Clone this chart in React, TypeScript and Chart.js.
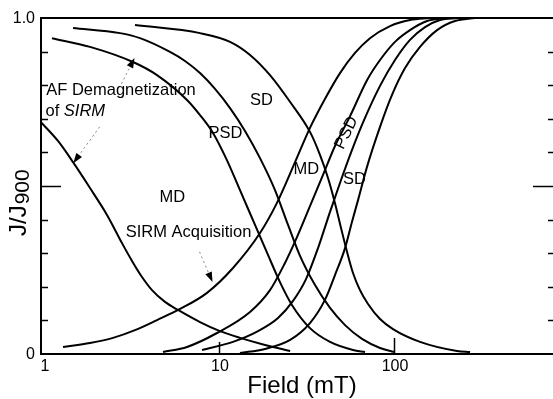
import React, { useEffect, useRef } from 'react';
import { Chart, registerables } from 'chart.js';

Chart.register(...registerables);

// Field axis bounds (mT, log scale) and remanence axis bounds
const X_MIN = 0.9613;
const X_MAX = 810;
const Y_MIN = 0;
const Y_MAX = 1;

// AF demagnetization of SIRM
const mdDemagField = [0.961, 1.202, 1.465, 1.832, 2.291, 2.791, 3.184, 3.631, 4.141, 4.913, 5.832, 7.788, 10.13, 13.18, 18.32, 25.5];
const mdDemagJ = [0.69, 0.634, 0.571, 0.494, 0.414, 0.33, 0.277, 0.229, 0.19, 0.155, 0.131, 0.095, 0.068, 0.048, 0.027, 0.009];

const fineDemagField = [1.111, 1.832, 3.226, 4.423, 6.565, 7.788, 9.24, 10.96, 13.18, 16.06, 19.05, 22.3, 26.1, 33.1, 43.09, 58.3, 68.29];
const fineDemagJ = [0.94, 0.914, 0.869, 0.83, 0.756, 0.711, 0.658, 0.583, 0.488, 0.384, 0.295, 0.214, 0.146, 0.077, 0.036, 0.012, 0.006];

const psdDemagField = [1.465, 2.718, 3.537, 5.248, 6.393, 7.788, 9.49, 11.56, 14.08, 17.15, 20.89, 24.8, 29.03, 35.37, 43.09, 52.5, 65.64, 83.2, 100];
const psdDemagJ = [0.97, 0.955, 0.94, 0.899, 0.872, 0.836, 0.789, 0.732, 0.664, 0.583, 0.488, 0.384, 0.292, 0.205, 0.137, 0.086, 0.045, 0.018, 0.006];

const sdDemagField = [3.311, 7.788, 11.56, 15.04, 19.56, 25.5, 33.1, 37.8, 41.96, 46.0, 49.8, 53.9, 58.3, 63.9, 71.03, 83.2, 98.7, 140.8, 229, 272];
const sdDemagJ = [0.979, 0.955, 0.929, 0.89, 0.83, 0.75, 0.661, 0.592, 0.524, 0.449, 0.375, 0.304, 0.241, 0.19, 0.149, 0.104, 0.074, 0.036, 0.009, 0.006];

// SIRM acquisition
const mdAcqField = [1.284, 1.832, 2.48, 3.311, 4.423, 5.987, 8.54, 12.02, 17.15, 21.4, 27.2, 33.1, 40.3, 49.14, 59.86, 72.9, 94.9, 123.4, 160.6];
const mdAcqJ = [0.021, 0.033, 0.048, 0.071, 0.101, 0.134, 0.182, 0.256, 0.36, 0.449, 0.571, 0.673, 0.759, 0.836, 0.896, 0.94, 0.976, 0.994, 1.0];

const mixAcqField = [4.786, 6.565, 9.74, 15.04, 19.56, 23.51, 27.9, 33.1, 39.3, 46.0, 56.1, 70.1, 83.2, 101.3, 123.4, 154.5, 195.6];
const mixAcqJ = [0.006, 0.021, 0.0625, 0.125, 0.19, 0.265, 0.348, 0.44, 0.533, 0.619, 0.708, 0.815, 0.875, 0.929, 0.964, 0.991, 1.0];

const psdAcqField = [8.0, 12.02, 16.71, 21.74, 26.48, 31.42, 36.79, 43.09, 49.8, 57.5, 67.39, 83.2, 101.3, 123.4, 150.4, 183.2, 232.1];
const psdAcqJ = [0.012, 0.036, 0.068, 0.107, 0.158, 0.223, 0.315, 0.423, 0.518, 0.607, 0.696, 0.798, 0.875, 0.935, 0.973, 0.994, 1.0];

const sdAcqField = [13.18, 18.32, 25.5, 33.1, 40.3, 46.0, 52.5, 57.5, 62.3, 70.1, 83.2, 97.4, 115.6, 140.8, 176.2, 223.2, 290.3];
const sdAcqJ = [0.003, 0.015, 0.042, 0.092, 0.161, 0.235, 0.315, 0.393, 0.458, 0.557, 0.676, 0.771, 0.851, 0.914, 0.964, 0.991, 1.0];

// Tick marks and labels
const yTickValues = [0.1, 0.2, 0.3, 0.4, 0.5, 0.6, 0.7, 0.8, 0.9];
const yTickLabels = [
  { value: 0, text: '0' },
  { value: 1, text: '1.0' },
];
const xTickValues = [10, 100];
const xTickLabels = [
  { value: 1, text: '1' },
  { value: 10, text: '10' },
  { value: 100, text: '100' },
];

const FONT = '"Liberation Sans", Arial, Helvetica, sans-serif';

const toPoints = (xs: number[], ys: number[]) => xs.map((x, i) => ({ x, y: ys[i] }));

const curve = (label: string, xs: number[], ys: number[]) => ({
  label,
  data: toPoints(xs, ys),
  borderColor: '#000',
  borderWidth: 2,
  pointRadius: 0,
  fill: false,
  cubicInterpolationMode: 'monotone' as const,
});

type Pt = { x: number; y: number };

function arrow(ctx: CanvasRenderingContext2D, from: Pt, tip: Pt) {
  const ang = Math.atan2(tip.y - from.y, tip.x - from.x);
  const headLen = 10;
  const baseX = tip.x - Math.cos(ang) * headLen;
  const baseY = tip.y - Math.sin(ang) * headLen;
  ctx.save();
  ctx.strokeStyle = '#888';
  ctx.lineWidth = 1;
  ctx.setLineDash([2, 3]);
  ctx.beginPath();
  ctx.moveTo(from.x, from.y);
  ctx.lineTo(baseX, baseY);
  ctx.stroke();
  ctx.setLineDash([]);
  ctx.fillStyle = '#000';
  ctx.beginPath();
  ctx.moveTo(tip.x, tip.y);
  ctx.lineTo(baseX + Math.sin(ang) * 3.5, baseY - Math.cos(ang) * 3.5);
  ctx.lineTo(baseX - Math.sin(ang) * 3.5, baseY + Math.cos(ang) * 3.5);
  ctx.closePath();
  ctx.fill();
  ctx.restore();
}

const framePlugin = {
  id: 'frameAndNotes',
  afterDatasetsDraw(chart: any) {
    const { ctx, chartArea: a, scales } = chart;
    const xs = scales.x;
    const ys = scales.y;
    const px = (v: number) => xs.getPixelForValue(v);
    const py = (v: number) => ys.getPixelForValue(v);
    const at = (x: number, y: number) => ({ x: px(x), y: py(y) });

    ctx.save();
    // frame: top, left, bottom
    ctx.strokeStyle = '#000';
    ctx.lineWidth = 2;
    ctx.beginPath();
    ctx.moveTo(a.right + 2, a.top);
    ctx.lineTo(a.left, a.top);
    ctx.lineTo(a.left, a.bottom);
    ctx.lineTo(a.right + 2, a.bottom);
    ctx.stroke();

    // inward y ticks on both sides
    ctx.lineWidth = 1.5;
    ctx.beginPath();
    for (const v of yTickValues) {
      const yy = Math.round(py(v)) + 0.5;
      const long = Math.abs(v - 0.5) < 1e-6;
      ctx.moveTo(a.left, yy);
      ctx.lineTo(a.left + (long ? 20 : 7), yy);
      ctx.moveTo(a.right, yy);
      ctx.lineTo(a.right - (long ? 20 : 5), yy);
    }
    // x ticks
    xTickValues.forEach((v, i) => {
      const xx = Math.round(px(v)) + 0.5;
      ctx.moveTo(xx, a.bottom);
      ctx.lineTo(xx, a.bottom - (i === 0 ? 12 : 16));
    });
    ctx.stroke();

    ctx.fillStyle = '#000';
    ctx.font = `16px ${FONT}`;
    ctx.textBaseline = 'middle';
    ctx.textAlign = 'right';
    for (const t of yTickLabels) {
      ctx.fillText(t.text, a.left - 6, py(t.value) + 1);
    }
    ctx.textAlign = 'center';
    for (const t of xTickLabels) {
      ctx.fillText(t.text, px(t.value) + 1, a.bottom + 13);
    }

    // axis titles
    ctx.font = `24px ${FONT}`;
    ctx.textBaseline = 'alphabetic';
    ctx.fillText('Field (mT)', 302, a.bottom + 39);

    ctx.save();
    ctx.translate(26, 236);
    ctx.rotate(-Math.PI / 2);
    ctx.textAlign = 'left';
    ctx.font = `24px ${FONT}`;
    ctx.fillText('J/J', 0, 0);
    const w = ctx.measureText('J/J').width;
    ctx.font = `21px ${FONT}`;
    ctx.fillText('900', w + 1, 3);
    ctx.restore();

    // curve labels
    ctx.font = `16.5px ${FONT}`;
    ctx.textBaseline = 'middle';
    ctx.textAlign = 'center';
    const notes: { text: string; x: number; y: number }[] = [
      { text: 'SD', x: 17.5, y: 0.756 },
      { text: 'PSD', x: 10.9, y: 0.655 },
      { text: 'MD', x: 5.42, y: 0.467 },
      { text: 'SIRM Acquisition', x: 6.7, y: 0.363 },
      { text: 'MD', x: 31.6, y: 0.548 },
      { text: 'SD', x: 59.5, y: 0.518 },
    ];
    for (const n of notes) {
      const p = at(n.x, n.y);
      ctx.fillText(n.text, p.x, p.y);
    }

    const psd = at(53.5, 0.658);
    ctx.save();
    ctx.translate(psd.x, psd.y);
    ctx.rotate(-1.12);
    ctx.fillText('PSD', 0, 0);
    ctx.restore();

    ctx.textAlign = 'left';
    ctx.textBaseline = 'alphabetic';
    const af = at(1.03, 0.789);
    ctx.fillText('AF Demagnetization', af.x, af.y + 6);
    const of = at(1.02, 0.726);
    ctx.fillText('of ', of.x, of.y + 6);
    const ow = ctx.measureText('of ').width;
    ctx.font = `italic 16.5px ${FONT}`;
    ctx.fillText('SIRM', of.x + ow, of.y + 6);

    // pointer arrows
    arrow(ctx, at(2.77, 0.804), at(3.29, 0.881));
    arrow(ctx, at(2.08, 0.676), at(1.47, 0.568));
    arrow(ctx, at(7.74, 0.304), at(9.18, 0.214));

    ctx.restore();
  },
};

export default function App() {
  const canvasRef = useRef<HTMLCanvasElement | null>(null);

  useEffect(() => {
    if (!canvasRef.current) return;
    const chart = new Chart(canvasRef.current, {
      type: 'line',
      data: {
        datasets: [
          curve('MD demagnetization', mdDemagField, mdDemagJ),
          curve('Fine PSD demagnetization', fineDemagField, fineDemagJ),
          curve('PSD demagnetization', psdDemagField, psdDemagJ),
          curve('SD demagnetization', sdDemagField, sdDemagJ),
          curve('MD acquisition', mdAcqField, mdAcqJ),
          curve('MD-PSD acquisition', mixAcqField, mixAcqJ),
          curve('PSD acquisition', psdAcqField, psdAcqJ),
          curve('SD acquisition', sdAcqField, sdAcqJ),
        ],
      },
      options: {
        animation: false,
        responsive: false,
        devicePixelRatio: 1,
        layout: { padding: { top: 18, left: 0, right: 0, bottom: 0 } },
        plugins: {
          legend: { display: false },
          tooltip: { enabled: false },
        },
        scales: {
          x: {
            type: 'logarithmic',
            min: X_MIN,
            max: X_MAX,
            grid: { display: false },
            border: { display: false },
            ticks: { display: false },
            afterFit: (s: any) => {
              s.height = 45;
            },
          },
          y: {
            type: 'linear',
            min: Y_MIN,
            max: Y_MAX,
            grid: { display: false },
            border: { display: false },
            ticks: { display: false },
            afterFit: (s: any) => {
              s.width = 41;
            },
          },
        },
      },
      plugins: [framePlugin],
    });
    return () => chart.destroy();
  }, []);

  return (
    <div style={{ position: 'absolute', left: 0, top: 0, width: 553, height: 399, background: '#fff' }}>
      <canvas ref={canvasRef} width={553} height={399} />
    </div>
  );
}
